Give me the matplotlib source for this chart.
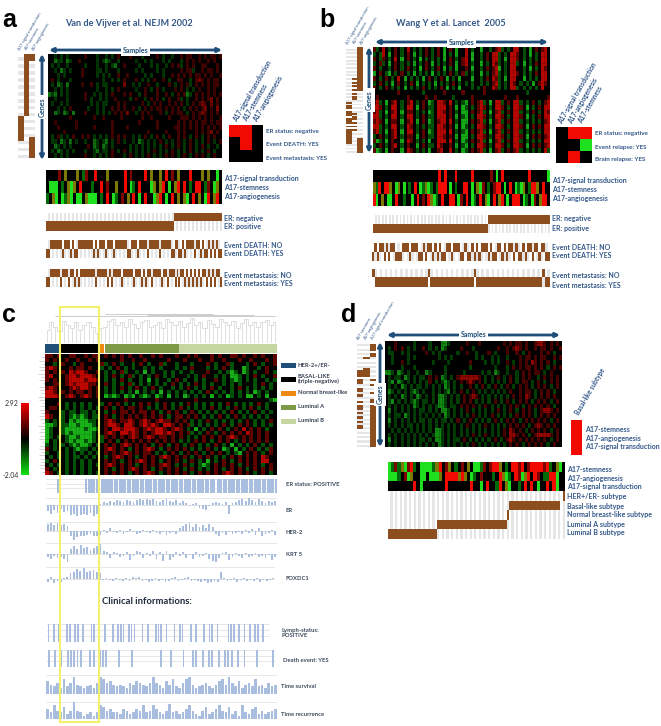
import numpy as np
import matplotlib
matplotlib.use("Agg")
import matplotlib.pyplot as plt
from matplotlib.colors import to_rgb

W, H = 661, 726
BLUE = '#1f4e79'
BROWN = '#8c4e1e'
BAR = '#a9bede'
plt.rcParams['font.family'] = ['Lato', 'DejaVu Sans']

# heatmaps, one char per cell
heat_a = [
 "..g.g.g.....r...g..g.g.r...r...g....r.g..g..r.rr..r.r.rr.r",
 "..Ggg.Gg..r.....g.gGg..g.....g..g.g...g.g...g.r.r.r..r.r..",
 ".g.g..g.....g...g..g.gG..r....g...g.g..g.r.rg.r.r..rr...r.",
 "..g.Gg.g...r....gg.g...g.....g.g....g.g.....r.rrg..r.rr.r.",
 "...g.g.....r....g.g.g..r..r.....g.g...g..r.r.r.r.rr.r.r..r",
 ".r.g...g..........g..g.g.r...r.g.g.r..r.g..rr..g.rRr.r.rr.",
 ".g.Gg.G....r..r.g.gg.....R..g.g..r..g...r.g.r.rg.r.r.r.rr.",
 "..g.g.g.........g..g.g.r.....g..r.g.r.g...r.r.g.g.r..r.r..",
 "GgG.g.g.....r..g.g.g.r...r.r..g.r...r..r.g.r.rGg.r.r.r.r.r",
 "..g...g.....r.g..g.g..r....g.r..g.r.r.g.r..rg.g..r.r.rR.r.",
 ".g..g.g.......g.g.gg...r.r.....r.g.r.r..r.r.r.g.r.rRr.R.r.",
 "...g.g.r.....g..g.g..r.r.r..r.g.r.r.rr.r.r.r.g.r.r.rR.r.R.",
 "..Gg.Gg.G...r...g.g.g.r.r.R..g.r.r...r.g.r.rr.g.r.rRr.r.r.",
 ".......r.......r..r.....r......r..r.....r...rrr.r.r.r.r..r",
 "..r......r...........r........r.....r......r.r.r.r.rr.r.rr",
 "...r.....r.....r.....r....r.........r.....rr.r.r.r.r.r.r.r",
 ".....r...............r...........r.....r...r.r...r.r.rR.r.",
 ".g.rg.g.r..r.r.g.g.g.r.r.r..g.g.r.g.r.g.r..r.r.g.r.g.r.r..",
 ".gg.Gg.G.g..g..Gg.gG.g.r.g..g.Gg.g.g.r.g.g.r.g.r.g.g.r.g.r",
 "..Gg.g.g.....r.Gg.Gg.g.....g.g.g.g.g.g.r.g.r.g.r.g.r.g..g.",
 ".g.Gg.g.g...g..gG.gg.r.g.r.g.g.g.g.r.g.g.r.g.g.r.g.g.r.g..",
 "..g.g.g.....r..g.g.g.r...g.r.g.g.r.g.g.r.r.g.r.g.r.r.g.r.."]
heat_b = [
 "rg.R.g.r.g.R.g.g.r.g.r.G.r.G..R.g..G..g.rRg.g.RR.g.G.r.rR.",
 "g.gR.G.r.g.r.G.g.r.g.r.G.g.G..R.G..g.r.RRg.g.RRr.g.G.g.RR.",
 "r.gr.g.R.G.r.g.G.g.g.g.G.r.g.rR.G..g.r.RRg.G.RRr.g.g.g.RR.",
 "g.rg.G.r.g.g.G.g.r.G.g.g.r.G.rR.g..G.g.Rrg.g.RRg.G.g.r.RR.",
 "r.g..g.r.g.r.g.G.r.g.r.G.g.G..r.G..g.r.rRG.g.RR..g.G.g.Rr.",
 "G.r.gG.g.r.g.G.g.g.G.g.g.r.g.rg.g..G.g.rRg.g.RRr.g.g.r.RR.",
 "r.g.r.g.R.G.g.g.G.r.g.r.G.g.G...G..g.r.Rrg.G.RR..G.g.g.RR.",
 "g.r.g.G.r.g.r.G.g.g.G.g.g.r.g.g.g..g.g.rRg.g.Rr.g.g.G.rRr.",
 "r.g.r.g.g.G.g.g.r.g.g.r.G.g.G...g.g.r..Rrg.g.RRg.g.g.g.R..",
 "........r.......g......r.....r......r.............g.......",
 ".r.........r.....r..r.....g.....r..........r...r.........r",
 "rRg.G.rR.g.rR.g.r.Gg.RRr.R.g.gG.r.rRg.G.RRg.r.RRg.g.r.g.rR",
 "RRr.g.RR.g.RR.G.r.gg.RRR.r.G.Gg.g.rRr.g.RRr.g.RRr.G.g.r.RR",
 "rRg.G.rR.G.rr.g.g.Gg.RRr.r.g.GG.r.rRg.G.rRg.r.RRg.g.r.g.Rr",
 "RRg.g.RR.g.RR.g.r.gg.RRR.r.G.gG.g.RRr.g.RRr.g.RRr.G.g.r.RR",
 "rRr.G.rr.G.rR.G.r.Gg.rRR.R.g.GG.r.rRg.G.rRg.r.RRg.g.g.g.rR",
 "RRg.g.RR.g.Rr.g.g.gg.RRr.r.G.Gg.g.RRr.g.RRr.g.RRr.G.r.r.RR",
 "rRg.G.rR.G.RR.g.r.Gg.RRR.R.g.gG.r.rRg.G.rRg.r.RRg.g.g.g.RR",
 "g.r.g.rR.g.rr.G.r.gg.RRr.r.G.GG.g.RRr.g.RRr.g.RRr.G.r.r.rR",
 "rGg.G.r..G.Rr.g.g.G..RRR.R.g.Gg.r.rRg.G.rRg.r.RRg.g.g.g.RR",
 "g.r.g.rR.g.r..G.r.gg.Rr..r.G.gG.g.RRr.g.RRr.g.RRr.G.r.r.rR",
 "rGg.G.r..G.Rr.g.g.G..rR..R.g.Gg.r.rRg.G.rRg.r.rRg.g.g.g.Rg"]
heat_c = [
 "rr.r..rr..r.rr.r.r.r.r..r..r.r...r..r.r...r.r..rr.r..r.r..r",
 "r.r..r..r..r.r.....r..r..r.....r...r...r..r..r...r..r...r.r",
 "..g.r..g.r....rg.r.g..g.r.g..rg..g...g...r.g..rg...g.r.g..r",
 "rRr...r.rr.r..g.g.r.g.g..g.g.g...g.g.r...g.g.r.g..Gg..g.r..",
 "r.r.r.RrRRr..r.g.g.rg..g.G.g..g.g.g..g...r..g.gGg.Gg.g..r.g",
 "rR...rRRrRRRr..g.r.g.rg.g.g.r.g.g...g.g.r..g.g.GGg.g.r.g..r",
 "r.r..rRRRRrRRr.g.g.r.g..g.G.g..g.r.g..g.g..r.g.gGg.g.g..g.g",
 "..rr.rRrRRRrr..r.g.g.rg.g.g.g.g.r.g.g.r.g.g..g.g.g...g.r.g.",
 "rRr...rRrRRr.r.g.g.r.g.r.g.r.g..g.g.r.g.g.r.g..g.r.g.g.g.g.",
 "RRr.r.r.rr.r.r.g.g.g.g.G.g.g.G.g.g.g.g.g.r.g.g.g.g.g.Gg.g.",
 "RRRr.rRr.rRr.r.GgGg.GgG.gGg.Gg.G.g.Gg.g.g.G.g.Gg.g.GG.g.G.",
 "....................r.......r.........r..................gG",
 "...r.g.g.g.g..g.r.r.g.g.r.r.g.r.g.g.r.g.g.g.g.r.g.g.g.r.g.",
 ".rr..g.g.g.g.g.r.g.r.rr.r.g.g.r.g.r.g.g.g.r.g.g.r.g.r.g.g.",
 "r...g.gg.gg.g..g.r.rr.r.rr.r.g.r.r.g.r.g.g.g.g.r.g.g.r.g.g",
 "Rr..g.gGgGg.gg.r.g.r.r.r.r.r.r.g.rr.r.r.g.g.r.g.r.g.g.g.g.",
 "g.g.g.GgGGGgg..rRr.rrRr.rRr.rRrr.r.r.g.g.r.g.g.g.g.r.g.g.r",
 "GGg.ggGGgGGGg..rRRr.RRr.rRrRr.RRr.r.rg.g.g.g.r.g.r.r.g.g.g",
 "Gg..gGGGGGgGGg.r.RRrRRRr.rRrRRr.rRr.g.G.g.r.r.g.r.R.r.r.g.",
 "Gg..gGgGGGGGg..rRr.RRrRr.r.rRRrRr.r.rg.g.r.g.r.r.r.Rr.r.r.",
 "Gg.g.gGGgGGGg.gr.r.r.rRr.rRr.rr.r.r.g.g.r.r.r.rRr.r.r.r.r.",
 "G.g..gGgGGgGg.g.r.g.r.r.r.r.r.r.r.g.g.r.r.g.r.r.g.r.r.r.r.",
 "g.g.g.gGgGGg.g.r.r.rRr.r.r.g.r.g.r.g.r.g.g.r.g.G.g.g.r.g.g",
 "r.g..g.gGgg.g..rRr.r.g.r.rRr.g.r.r.r.g.g.r.g.Gg.G.g.r.g.gr",
 "g..g.g.g.g.g.g.r.r.rRr.r.rr.g.g.r.g.r.r.g.r.r.g.gG.r.r.g.r",
 ".g.g.g.gg.g.g..g.rRr.r.g.r.r.rRr.r.r.g.r.r.g.g.r.r.r.r.Rr.",
 "g.r..g.g.g.g...r.r.g.r.rRr.r.g.r.r.g.r.g.G.g.r.g.r.r.r.RR.",
 ".g.g.g.g.g.g.g.rRr.r.r.g.r.r.rRr.g.r.g.gGg.r.r.r.g.r.r.g.r",
 "r.g..g.g.g.g...r.g.r.rRr.r.g.r.r.r.g.r.g.g.r.g.r.r.g.r.r.r",
 "Rr.g.g.g.g.g.g.r.r.r.g.r.rRr.g.r.r.r.g.r.r.r.rRr.r.r.g.r.g"]
heat_d = [
 "...r.....g....g...GGg.....r...r.......r.r.rr.r..rRRr.r.r.",
 ".g.r.r.g.g..r.g.g.Gg....r...g.......r..r.rRr.r..r.rr.r..r",
 ".gg..g.g.....r.g.g.....g..r..g...r.g...r..r.g.r...r.r.g..",
 "..g....g.g.......g.g.g.......g.g..g.g..g...r.rr.r.rr..r.r",
 "..g..r.g.......g....g......r....g.g.g..r.g.r.r.Rr.r.r.g..",
 ".....g...g.........g.......g.......g...g.r.r.rr.r.r.g.r.r",
 "GGg.Gg.g..g..Gg....g.....g.....g.g.Gg..g..g.r.r.rr.g.r..",
 ".g.gg.Gg.g.gg.r.r.Gg.g.rRRRRRRr.g.g.r.g.r.g.r.r..g.r.r.r",
 ".gG.Gg.g.g.g.gr.g.gGg.g.r.rRr.r.g.g.g.g.r.g.rr.g.r.g.r.r",
 ".g.g.Gg.g.gg.g.g.g.Gg.g.g..r.g.r.g.r.g.r.g.r.r.g.r.r.g.r",
 ".Gg.g.g.gGg.g..g.g.gG.g.r.g.r.g.g.g.g.g.r..r.rr.g.r.r.g.",
 ".g.g.Gg.g.Gg.g.g.GGg.g.g.r.rRr.g.g.g.g.g.r.r.Rr.g.r.r.r.",
 ".gG.g.g.gGg.gg.g.GGg.g.g.r.r.g.g.g.r.g.r.g.r.r.g.r.r.g.r",
 ".g.g.g.g.Gg.g.g.gGGg.gg.r.r.r.g.r.g.g.g.r.r.g.r.r.r.r.g.",
 ".G.g.g.g.g.gg.g.g.GGg.g.g.r.g.g.g.g.r.g.r.g.r.r.g.rRRr.r",
 ".g.gg.Gg.g.g.g.g.g.Gg.g.g.g.r.g.g.r.g.g.g.r.r.r.g.r.r.r.",
 ".G.g.g.g.g.gg.g.g.gg.g.r.g.r.g.g.g.r.g.r.r.g.r.r.r.r.g.r",
 ".g.g.g.gg.g.g.g.g.g.g.g.g.r.g.g.r.g.g.g.r.r.r.g.rRr.r.r.",
 "..g.g.g.g.g.g.g.GGg.g.g.g.g.g.g.g.g.g.r.Rr.r.g.r.r.r.g.r",
 ".g.g.g.g.g.g.g.gGGg.g.g.g.g.r.g.r.g.g.r.RRr.r.g.rRRRRr.r",
 ".G.g.g.g.g.gg.g.GGg.g.gg.r.g.g.g.g.r.g.rRr.r.r.r.r.r.g.r",
 ".g.g.g.g.g.g.g.g.Gg.g.g.g.g.r.g.g.g.g.g.r.r.g.r.r.r.g.r."]

# colour strips
sig_a = "....r.o...o.gr..R...o.....R.r....R.o..o.R.r.o...R...o.o..G"
stem_a = ".GGG.g.oGo.R...g..R.r..o..R.Gg.R...Go.oR.G.oR.R.g.RR.gr.Go"
ang_a = "g.oG.GgoG.GG.oGGG.g.R.Gg.r.o.R.G.R..GoR.G.R.o.oG.R.o.GR.oR."
sig_b = "........................R.R...R.....R......r.G.R.........R......G"
stem_b = "ogR.RRo.Go.G.g.R.GgoGg.gRRR.G.g..RR.G.oGr.g.rRR.G.R.GgGo.gRRo.R."
ang_b = "RG.o.GG.R..g..G.R.r.RoGg.R..RR.Gr.R.Gg.R.oG.R.oR.G.RRR.Gg.Gr.oRR"
stem_d = "GgrgoGrRg.GGGGgoR.ro.g.r.o.GGgr.rRRo.g.RRrR.rRRRRrRg.oG"
ang_d = "GGGg.rGo..GG.GGGo.RRRRoRo.Gg.r...g.RoGg.RrGoR.Rr.ggRRG."
sig_d = "........R.G.......R.......R..G.R..gR.oG..g.R.R.G..R.RG.."

# brown annotation columns (1 = on)
side_a = ["000000000000000000111111100000",
          "111111111111111111000000000000",
          "110000000000000000000000111111"]
side_b = ["0000000000000000000000000000001011011101110101111111100000",
          "0000000000000000010101010101100000001011010101000000000000",
          "1111111111111111111111110000000000000000000000000011111111"]
side_d = ["000000000000011101100110100101101010101100000000",
          "000000010000111100000000000000000000000000000000",
          "011101100000000001010001001101111111111111111111"]

er_a = "0" * 64 + "1" * 24
death_a = "00111111011101001111111101011101110111111001110111101111101111100110010111101101001010100"
meta_a = "00111110111011010111111110111110101111011111011101011011110110111010110101010101101010110"
er_b = "0" * 65 + "1" * 35
death_b = "01011010110001110111001011010100110111001001010111010011010110100101101101100"
meta_b = "1000000000000000000000100000000000000000100000000000000000000000000100"
sub_her = "0" * 75 + "1"
sub_basal = "0" * 52 + "1" * 22 + "00"
sub_normal = "0" * 51 + "1" + "0" * 24
sub_luma = "0" * 21 + "1" * 30 + "0" * 25
sub_lumb = "1" * 21 + "0" * 55

# subtype bar of panel c
sub_names = ["HER-2+/ER-", "BASAL-LIKE\n(triple-negative)", "Normal breast-like", "Luminal A", "Luminal B"]
sub_colors = ['#1f4e79', '#000000', '#ee8a12', '#7f9a46', '#c5d6a1']
sub_left = [45, 61, 99, 105, 179]
sub_right = [59, 97.5, 104, 179, 277]

# blue tracks of panel c
er_status = "00001000000000011111111111111111111111111111111111111111111111111011111111111111111111111"
lymph = "10101001101101001101010010111011100101001110100101100101001011010001110101010110100"
death_ev = "10101011111001101110001000100000000100100010011010110101110101000100001"
er_vals = [-.5,-.8,-.4,-.7,-.3,-.6,-.5,-.9,-.8,-1,-.9,-.8,-.9,-.7,-1,-.8,.1,.3,.2,.4,.3,.5,.4,.3,.5,.4,.3,.5,.6,.5,.6,.5,.6,.4,.3,.5,.6,.4,.3,.5,.2,.4,.2,-.1,.1,.2,-.2,-.3,-.4,-.1,.2,.3,.2,.1,.3,-.8,.2,.3,.5,.6,.4,.7,.5,.3,.6,.4,.2,.4,.3,.4]
her2_vals = [.8,.9,.7,.9,.7,.8,.6,-.6,-1,-.7,-.5,-.6,-.4,-.3,-.5,-.6,-.4,.1,-.2,.3,-.1,-.2,.1,-.3,-.1,.2,-.1,-.3,-.2,.1,-.1,-.2,.1,-.2,-.3,-.1,-.4,-.2,-.1,-.3,.3,.6,.8,.9,.5,.8,.4,.7,.3,.8,.5,-.3,-.5,-.2,-.4,-.1,-.3,-.2,-.1,-.3,.1,-.2,.2,-.4,.3,-.5,-.3,-.2,.1,-.4]
krt5_vals = [-.3,-.5,-.2,-.4,-.3,-.5,-1,.5,.8,.5,.9,.6,.7,.4,.6,.8,1,.3,.2,-.4,.2,.1,-.3,-.2,.2,-.6,-.2,.3,.2,-.4,.1,-.2,.3,-.5,.2,-.7,.3,-.6,-.3,.2,-.2,.2,-.4,-.1,-.5,.2,-.3,-.2,.1,-.5,-.7,-.8,-.4,.1,.2,-.6,-.3,.1,-.2,-.4,.1,-.3,-.2,.1,-.3,-.2,-.4,-.1,-.6,-.3]
foxc1_vals = [-.3,.2,-.4,-.2,-.3,.1,.2,.5,.6,.9,.7,1,.6,.7,.8,.6,.5,-.1,.1,-.1,-.2,.1,-.1,-.2,.1,-.2,.2,.1,.2,-.2,-.1,-.3,-.2,.1,-.2,-.1,-.3,-.2,.1,.2,-.2,-.1,.1,.2,-.2,-.1,-.2,-.3,-.2,-.4,-.3,-.2,-.3,.6,.1,-.2,-.1,.1,-.3,-.1,.1,-.2,-.1,-.2,.1,-.3,-.1,-.2,-.1,.1]
surv_vals = [.7,.5,.4,.6,.3,.8,.4,.6,.9,.5,.4,.3,.4,.5,.3,.6,.9,.8,.6,.7,.5,.4,.5,.4,.3,.6,.5,.7,.6,.5,.4,.6,.9,.6,.5,.3,.7,.5,.8,.4,.3,.6,.8,.9,.5,.3,.4,.5,.6,.4,.3,.5,.7,.8,.5,.9,.6,.4,.7,.3,.5,.6,.4,.8,.4,.5,.3,.6,.4,.5]
recur_vals = [.6,.4,.8,.5,.4,.7,.3,.5,1,.5,.4,.2,.3,.4,.2,.4,.8,.7,.5,.6,.4,.4,.3,.6,.5,.3,.4,.6,.5,.8,.4,.5,.8,.6,.4,.3,.5,.9,.4,.5,.3,.4,.6,.8,.5,.3,.2,.5,.7,.3,.4,.6,.8,.5,.4,.7,.3,.5,.2,.8,.4,.3,.6,.7,.3,.5,.3,.4,.5,.6]

# dendrogram of panel c: one height per leaf group
dendro_top = [.45,.7,.55,.4,.75,.6,.5,.72,.45,.6,.7,.55,.35,.5,.55,.75,.8,.6,.7,.55,.8,.65,.5,.7,.78,.55,.6,.72,.5,.82,.7,.6,.75,.55,.68,.85,.6,.7,.5,.78,.66,.55,.8,.7,.6,.75,.5,.68,.8,.6,.72,.55,.7,.78,.6,.7]
dendro_left = [.5,.8,.4,.7,.6,.9,.5,.7,.3,.8,.6,.5,.9,.7,.4,.6,.8,.5,.7,.6,.4,.9,.5,.7,.6,.8,.4,.6,.7,.5,.8,.6,.5,.7,.6,.4]

fig = plt.figure(figsize=(W / 100, H / 100), dpi=100)


def px_ax(x0, y0, x1, y1):
    ax = fig.add_axes([x0 / W, 1 - y1 / H, (x1 - x0) / W, (y1 - y0) / H])
    ax.axis('off')
    return ax


palette = {'.': '#000000', 'r': '#7d0500', 'R': '#f00a00', 'g': '#006a08', 'G': '#1fe01f', 'o': '#7c7a05'}


def heat(x0, y0, x1, y1, rows, gain=1.0, grid=0):
    n = max(len(r) for r in rows)
    img = [[to_rgb(palette[c]) for c in r.ljust(n, '.')] for r in rows]
    ax = px_ax(x0, y0, x1, y1)
    ax.imshow(np.array(img) * gain, aspect='auto', interpolation='nearest')
    if grid:
        # fine cell grid seen in the source heatmaps
        ax.vlines(np.linspace(-0.5, n - 0.5, int((x1 - x0) / 1.6)), -0.5, len(rows) - 0.5, color='k', lw=grid)
        ax.hlines(np.linspace(-0.5, len(rows) - 0.5, int((y1 - y0) / 1.7)), -0.5, n - 0.5, color='k', lw=grid)
        ax.set_xlim(-0.5, n - 0.5)
        ax.set_ylim(len(rows) - 0.5, -0.5)


def brown_cells(x0, y0, x1, y1, rows, stripe='col'):
    # rows of 0/1 strings, off cells get the faint gray stripes
    n = max(len(r) for r in rows)
    img = np.ones((len(rows), n, 3))
    for i, r in enumerate(rows):
        for j, c in enumerate(r.ljust(n, '0')):
            if c == '1':
                img[i, j] = to_rgb(BROWN)
            elif (j if stripe == 'col' else i) % 2:
                img[i, j] = to_rgb('#e6e6e6')
    px_ax(x0, y0, x1, y1).imshow(img, aspect='auto', interpolation='nearest')


def flip(s):
    return s.translate(str.maketrans('01', '10'))


def two_rows(x0, y0, x1, y1, s):
    brown_cells(x0, y0, x1, y1, [s, flip(s)])


def sidebar(x0, y0, x1, y1, cols):
    n = max(len(c) for c in cols)
    rows = [''.join(c.ljust(n, '0')[i] for c in cols) for i in range(n)]
    brown_cells(x0, y0, x1, y1, rows, stripe='row')


def bars(x0, y0, x1, y1, vals, ymin, ymax, width=0.55):
    ax = px_ax(x0, y0, x1, y1)
    ax.bar(np.arange(len(vals)), vals, width=width, color=BAR)
    ax.axhline(0, color='#d4d4d4', lw=0.5, zorder=0)
    ax.axhline(ymin, color='#dddddd', lw=0.6, zorder=0)
    ax.axhline(ymax, color='#e4e4e4', lw=0.6, zorder=0)
    ax.set_xlim(-0.5, len(vals) - 0.5)
    ax.set_ylim(ymin, ymax)


def ticks(x0, y0, x1, y1, s, width=0.6):
    ax = px_ax(x0, y0, x1, y1)
    on = [i for i, c in enumerate(s) if c == '1']
    ax.bar(on, [1] * len(on), width=width, color=BAR)
    for v in (0, 0.33, 0.66, 1):
        ax.axhline(v, color='#dddddd', lw=0.5, zorder=0)
    ax.set_xlim(-0.5, len(s) - 0.5)
    ax.set_ylim(0, 1)


# panel a
sidebar(18, 54, 35, 158, side_a)
heat(48, 54, 222, 158, heat_a, 0.85, 0.3)
heat(229, 125, 263, 162, ["RR.", ".R.", "..."])
heat(46, 170, 222, 204, [sig_a, stem_a, ang_a])
two_rows(46, 213, 222, 231, er_a)
two_rows(46, 240, 222, 258, death_a)
two_rows(46, 269, 222, 287, meta_a)

# panel b
sidebar(346, 47, 363, 153, side_b)
heat(373, 47, 550, 153, heat_b, 1.0, 0.18)
heat(556, 127, 592, 163, [".RR", "..G", ".R."])
heat(373, 170, 550, 206, [sig_b, stem_b, ang_b])
two_rows(373, 215, 550, 233, er_b)
two_rows(372, 243, 550, 261, death_b)
two_rows(372, 269, 550, 287, meta_b)

# panel c
ax_den = px_ax(45, 313, 277, 343)
xs = np.arange(len(dendro_top))
ax_den.vlines(xs, 0, dendro_top, color='#c8c8c8', lw=0.4)
ax_den.step(xs, dendro_top, where='mid', color='#c8c8c8', lw=0.4)
ax_den.hlines([.92, 1.0, .95], [2, 14, 24], [55, 40, 50], color='#c4c4c4', lw=0.6)
ax_den.set_xlim(-0.5, len(dendro_top) - 0.5)
ax_den.set_ylim(0, 1.02)
ax_side = px_ax(37, 354, 45, 475)
ys = np.arange(len(dendro_left))
ax_side.hlines(ys, 0, dendro_left, color='#c4c4c4', lw=0.5)
ax_side.set_xlim(1, 0)
ax_side.set_ylim(len(dendro_left), -1)
ax_sub = px_ax(0, 344, W, 353)
ax_sub.barh(0, np.array(sub_right) - np.array(sub_left), left=sub_left, height=1, color=sub_colors)
ax_sub.set_xlim(0, W)
ax_sub.set_ylim(-0.5, 0.5)
heat(45, 354, 277, 475, heat_c, 1.0, 0.15)
cb = px_ax(21, 403, 29, 475)
cb.imshow(np.linspace(1, -1, 100)[:, None], aspect='auto',
          cmap=matplotlib.colors.LinearSegmentedColormap.from_list('gbr', ['#10e010', '#000000', '#f00000']))
ticks(46, 479, 277, 493, er_status, 0.85)
bars(46, 498, 277, 517, er_vals, -1.1, .7)
bars(46, 522, 277, 540, her2_vals, -1, 1)
bars(46, 543, 277, 562, krt5_vals, -.8, 1.1)
bars(46, 567, 275, 585, foxc1_vals, -.6, 1.1)
ticks(47, 624, 270, 642, lymph)
ticks(47, 650, 275, 667, death_ev)
bars(46, 675, 277, 694, surv_vals, 0, 1, 0.8)
bars(46, 702, 277, 719, recur_vals, 0, 1, 0.8)

# panel d
sidebar(357, 342, 375, 447, side_d)
heat(385, 341, 562, 447, heat_d, 0.9, 0.25)
heat(571, 420, 582, 455, ["R", "R", "R"])
heat(388, 462, 565, 491, [stem_d, ang_d, sig_d])
brown_cells(388, 491, 565, 539, [sub_her, sub_basal, sub_normal, sub_luma, sub_lumb])

# texts, arrows and the yellow box go on top
ov = px_ax(0, 0, W, H)
ov.set_xlim(0, W)
ov.set_ylim(H, 0)
ov.patch.set_alpha(0)


def arrow(x0, y0, x1, y1, label, rot=0):
    ov.annotate('', xy=(x1, y1), xytext=(x0, y0),
                arrowprops=dict(arrowstyle='<|-|>', color=BLUE, lw=2, mutation_scale=6, shrinkA=0, shrinkB=0))
    ov.text((x0 + x1) / 2, (y0 + y1) / 2, label, rotation=rot, ha='center', va='center', fontsize=5,
            fontweight='bold', color=BLUE, bbox=dict(fc='white', ec='none', pad=1.5))


def lab(x, y, s, size=5.0, color='#34588a', weight='bold', **kw):
    ov.text(x, y, s, fontsize=size, color=color, fontweight=weight, va='center', **kw)


def rot_labels(x, y, names, dx, size, rot):
    for i, s in enumerate(names):
        ov.text(x + i * dx, y, s, fontsize=size, color='#34588a', rotation=rot, ha='left', va='bottom',
                rotation_mode='anchor', fontweight='bold' if size > 4 else 'normal')


for x, y, s in [(2, 20, 'a'), (319, 20, 'b'), (2, 315, 'c'), (341, 315, 'd')]:
    ov.text(x, y, s, fontsize=18, fontweight='bold', family='Liberation Sans', va='center')
lab(65, 23, 'Van de Vijver et al. NEJM 2002', 6.6)
lab(396, 23, 'Wang Y et al. Lancet  2005', 6.6)

arrow(49, 50, 222, 50, 'Samples')
arrow(42, 54, 42, 160, 'Genes', 90)
arrow(375, 42, 548, 42, 'Samples')
arrow(369, 47, 369, 153, 'Genes', 90)
arrow(387, 335, 560, 335, 'Samples')
arrow(380, 342, 380, 447, 'Genes', 90)

names_a = ['A17-signal transduction', 'A17-stemness', 'A17-angiogenesis']
rot_labels(21, 51, names_a, 7, 3.0, 60)
rot_labels(238, 123, names_a, 10, 4.7, 60)
rot_labels(349, 45, ['A17-signal transduction', 'A17-stemness', 'A17-angiogenesis'], 7, 3.0, 60)
rot_labels(563, 125, ['A17-signal transduction', 'A17-angiogenesis', 'A17-stemness'], 10, 4.7, 60)
rot_labels(360, 340, ['A17-stemness', 'A17-angiogenesis', 'A17-signal transduction'], 7, 3.0, 60)
rot_labels(580, 416, ['Basal-like subtype'], 0, 4.7, 60)

for y, s in zip([131, 144, 158], ['ER status: negative', 'Event DEATH: YES', 'Event metastasis: YES']):
    lab(266, y, s, 4.5)
for y, s in zip([179, 188, 197, 218, 227, 245, 254, 275, 284],
                names_a + ['ER: negative', 'ER: positive', 'Event DEATH: NO', 'Event DEATH: YES',
                           'Event metastasis: NO', 'Event metastasis: YES']):
    lab(224, y, s)
for y, s in zip([133, 147, 160], ['ER status: negative', 'Event relapse: YES', 'Brain relapse: YES']):
    lab(595, y, s, 4.5)
for y, s in zip([180, 189, 198, 219, 228, 247, 255, 276, 285],
                ['A17-signal transduction', 'A17-stemness', 'A17-angiogenesis', 'ER: negative', 'ER: positive',
                 'Event DEATH: NO', 'Event DEATH: YES', 'Event metastasis: NO', 'Event metastasis: YES']):
    lab(552, y, s)
for y, s in zip([429, 438, 447], ['A17-stemness', 'A17-angiogenesis', 'A17-signal transduction']):
    lab(585, y, s)
for y, s in zip([470, 478, 487, 497, 506, 515, 524, 532],
                ['A17-stemness', 'A17-angiogenesis', 'A17-signal transduction', 'HER+/ER- subtype',
                 'Basal-like subtype', 'Normal breast-like subtype', 'Luminal A subtype', 'Luminal B subtype']):
    lab(567, y, s)

ov.text(5, 403, '2.92', fontsize=5, color='#333333', va='center')
ov.text(3, 476, '-2.04', fontsize=5, color='#333333', va='center')
for i, s in enumerate(sub_names):
    y = 365 + i * 14
    ov.barh(y, 15, left=281, height=5, color=sub_colors[i])
    lab(298, y, s, 4.2, '#333f50', linespacing=1.1)

dark = '#3b4a5c'
for x, y, s in [(286, 484, 'ER status: POSITIVE'), (286, 510, 'ER'), (286, 532, 'HER-2'), (286, 555, 'KRT 5'),
                (286, 579, 'FOXDC1'), (282, 633, 'Lymph-status:\nPOSITIVE'), (283, 661, 'Death event: YES'),
                (281, 687, 'Time survival'), (281, 715, 'Time recurrence')]:
    lab(x, y, s, 4.2, dark)
lab(102, 602, 'Clinical informations:', 6.8, '#1f2a3c')

ov.add_patch(plt.Rectangle((59.5, 307), 39.5, 415, fill=False, ec='#f4f06c', lw=1.5))

fig.savefig('out.png', dpi=100)
